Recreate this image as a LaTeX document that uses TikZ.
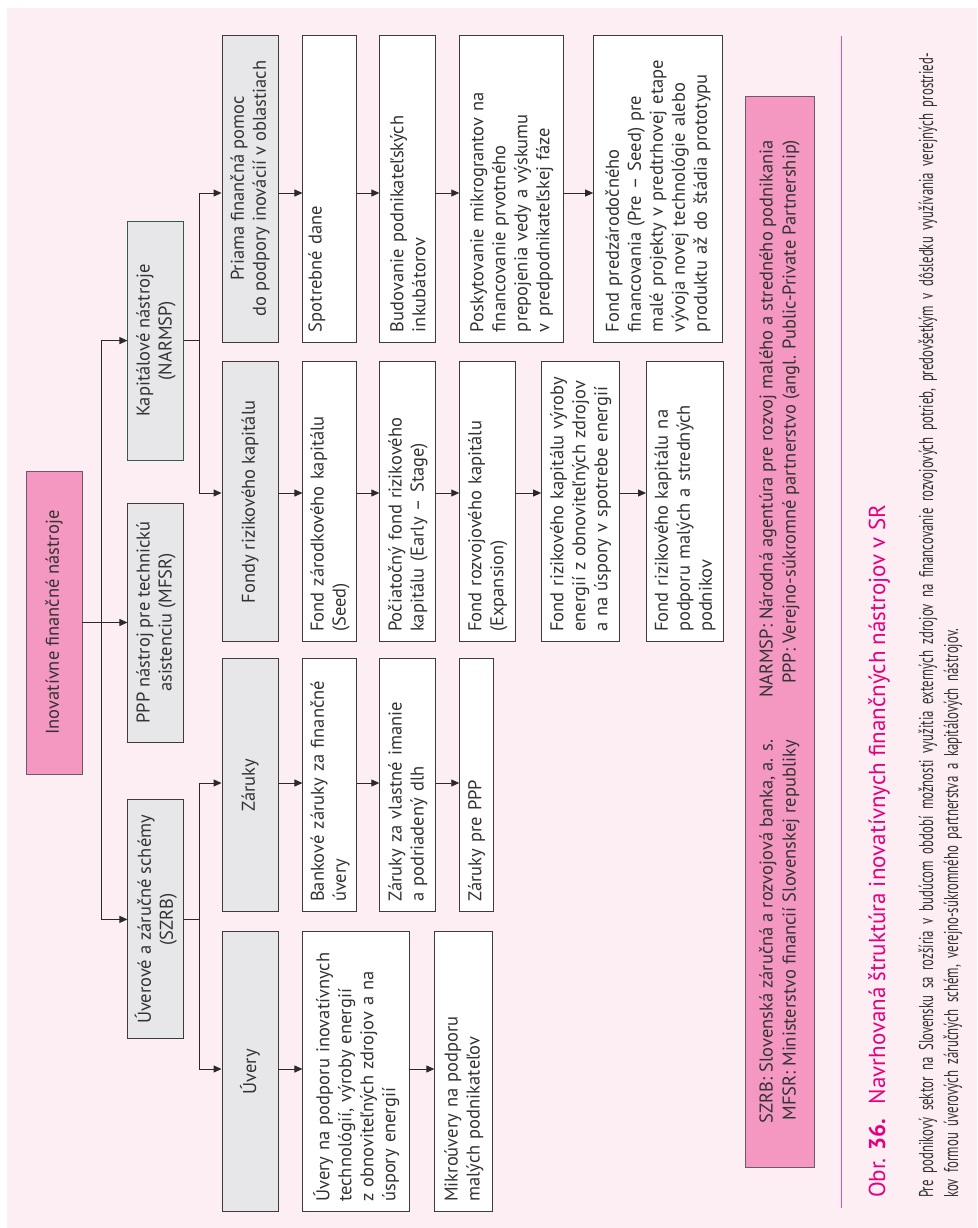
\documentclass[tikz,border=0pt]{standalone}
\usepackage{fontspec}
\setmainfont{PT Sans}
\newfontfamily\condfont{PT Sans}[FakeStretch=0.64]
\usetikzlibrary{arrows.meta,positioning}
\definecolor{pagebg}{HTML}{FDEEF3}
\definecolor{pinkfill}{HTML}{F498C1}
\definecolor{catfill}{HTML}{E7E7E9}
\definecolor{boxline}{HTML}{3C3C3C}
\definecolor{kapline}{HTML}{2F5D4F}
\definecolor{legline}{HTML}{6E5A64}
\definecolor{accent}{HTML}{E6007E}
\definecolor{rulec}{HTML}{E8509E}
\definecolor{textc}{HTML}{333333}
\definecolor{arrowc}{HTML}{2A2A2A}

\begin{document}
\begin{tikzpicture}[x=1pt, y=1pt,
  base/.style={draw=boxline, line width=0.9pt, text=textc, font=\fontsize{18.5}{22}\selectfont},
  rootbox/.style={base, fill=pinkfill, draw=legline, minimum width=303pt, minimum height=56pt},
  catbox/.style={base, fill=catfill, align=center, minimum height=56pt, inner sep=4pt},
  leafbox/.style={base, fill=white, align=left, inner xsep=10pt, inner ysep=5pt},
  colP/.style={leafbox, minimum width=307pt, text width=287pt},
  colF/.style={leafbox, minimum width=280pt, text width=260pt},
  colZ/.style={leafbox, minimum width=253pt, text width=233pt},
  colU/.style={leafbox, minimum width=280pt, text width=260pt},
  legendbox/.style={base, fill=pinkfill, draw=legline, minimum width=1071pt, minimum height=69pt,
                    font=\fontsize{18.5}{23}\selectfont},
  arr/.style={-{Triangle[length=8pt,width=7pt]}, draw=arrowc, line width=0.9pt}]

\begin{scope}[shift={(977,-1228)}, rotate=90, transform shape]
\useasboundingbox (0,0) rectangle (1228,977);
\fill[pagebg] (0,0) rectangle (1220,970);

% root and first level
\node[rootbox] (root) at (605.5,923) {Inovatívne finančné nástroje};
\node[catbox, minimum width=239pt, below=45pt of root] (ppp) {PPP nástroj pre technickú\\asistenciu (MFSR)};
\node[catbox, draw=kapline, minimum width=239pt, right=42pt of ppp] (kap) {Kapitálové nástroje\\(NARMSP)};
\node[catbox, minimum width=239pt, left=57pt of ppp] (uver) {Úverové a záručné schémy\\(SZRB)};

% second level
\node[catbox, minimum width=307pt] (priama) at (1039.5,727) {Priama finančná pomoc\\do podpory inovácií v oblastiach};
\node[catbox, minimum width=280pt, left=19pt of priama] (fondy) {Fondy rizikového kapitálu};
\node[catbox, minimum width=253pt, left=16pt of fondy] (zaruky) {Záruky};
\node[catbox, minimum width=280pt, left=19pt of zaruky] (uvery) {Úvery};

% chains
\node[colP, minimum height=54pt, text depth=30pt, below=24pt of priama] (spot) {Spotrebné dane};
\node[colP, minimum height=56pt, below=22pt of spot] (budo) {Budovanie podnikateľských\\inkubátorov};
\node[colP, minimum height=104pt, below=23pt of budo] (posk) {Poskytovanie mikrograntov na\\financovanie prvotného\\prepojenia vedy a výskumu\\v predpodnikateľskej fáze};
\node[colP, minimum height=129pt, below=29pt of posk] (pred) {Fond predzárodočného\\financovania (Pre – Seed) pre\\malé projekty v predtrhovej etape\\vývoja novej technológie alebo\\produktu až do štádia prototypu};

\node[colF, minimum height=54pt, below=24pt of fondy] (seed) {Fond zárodkového kapitálu\\(Seed)};
\node[colF, minimum height=56pt, below=22pt of seed] (early) {Počiatočný fond rizikového\\kapitálu (Early – Stage)};
\node[colF, minimum height=56pt, below=23pt of early] (expan) {Fond rozvojového kapitálu\\(Expansion)};
\node[colF, minimum height=78pt, below=25pt of expan] (ener) {Fond rizikového kapitálu výroby\\energií z obnoviteľných zdrojov\\a na úspory v spotrebe energií};
\node[colF, minimum height=77pt, below=26pt of ener] (msp) {Fond rizikového kapitálu na\\podporu malých a stredných\\podnikov};

\node[colZ, minimum height=54pt, below=24pt of zaruky] (bank) {Bankové záruky za finančné\\úvery};
\node[colZ, minimum height=56pt, below=22pt of bank] (imanie) {Záruky za vlastné imanie\\a podriadený dlh};
\node[colZ, minimum height=34pt, below=23pt of imanie] (zppp) {Záruky pre PPP};

\node[colU, minimum height=107pt, below=24pt of uvery] (uinov) {Úvery na podporu inovatívnych\\technológií, výroby energií\\z obnoviteľných zdrojov a na\\úspory energií};
\node[colU, minimum height=58pt, below=24pt of uinov] (mikro) {Mikroúvery na podporu\\malých podnikateľov};

% arrow columns
\coordinate (cP) at (1035,0);
\coordinate (cF) at (735,0);
\coordinate (cZ) at (445,0);
\coordinate (cU) at (159,0);

\draw[arr] (root.south) -- (root.south |- ppp.north);
\draw[arr] (root.south) -- ++(0,-19) -| (kap.north);
\draw[arr] (root.south) -- ++(0,-19) -| (uver.north);
\draw[arr] (kap.south) -- ++(0,-15) -| (priama.north -| cP);
\draw[arr] (kap.south) -- ++(0,-15) -| (fondy.north -| cF);
\draw[arr] (uver.south) -- ++(0,-15) -| (zaruky.north -| cZ);
\draw[arr] (uver.south) -- ++(0,-15) -| (uvery.north -| cU);

\foreach \a/\b/\c in {priama/spot/cP, spot/budo/cP, budo/posk/cP, posk/pred/cP,
                      fondy/seed/cF, seed/early/cF, early/expan/cF, expan/ener/cF, ener/msp/cF,
                      zaruky/bank/cZ, bank/imanie/cZ, imanie/zppp/cZ,
                      uvery/uinov/cU, uinov/mikro/cU}
  \draw[arr] (\a.south -| \c) -- (\b.north -| \c);

% legend
\node[legendbox] (legend) at (596.5,197.5)
  {\begin{tabular}{@{}r@{\hspace{42pt}}r@{}}
   SZRB: Slovenská záručná a rozvojová banka, a. s. & NARMSP: Národná agentúra pre rozvoj malého a stredného podnikania\\
   MFSR: Ministerstvo financií Slovenskej republiky & PPP: Verejno-súkromné partnerstvo (angl. Public-Private Partnership)
   \end{tabular}};

\draw[rulec, line width=0.8pt] (20,136) -- (1192,136);

\node[anchor=base west, inner sep=0pt, text=accent, font=\fontsize{23}{27}\selectfont] (caption) at (30,92)
  {Obr. \textbf{36.}\hspace{14pt}Navrhovaná štruktúra inovatívnych finančných nástrojov v SR};
\node[anchor=base west, inner sep=0pt, text width=1190pt, align=left, text=textc,
      font=\condfont\fontsize{20}{25}\selectfont] (note) at (30,44)
  {Pre podnikový sektor na Slovensku sa rozšíria v budúcom období možnosti využitia externých zdrojov na financovanie rozvojových potrieb, predovšetkým v dôsledku využívania verejných prostried-\\
   kov formou úverových záručných schém, verejno-súkromného partnerstva a kapitálových nástrojov.};
\end{scope}
\end{tikzpicture}
\end{document}
